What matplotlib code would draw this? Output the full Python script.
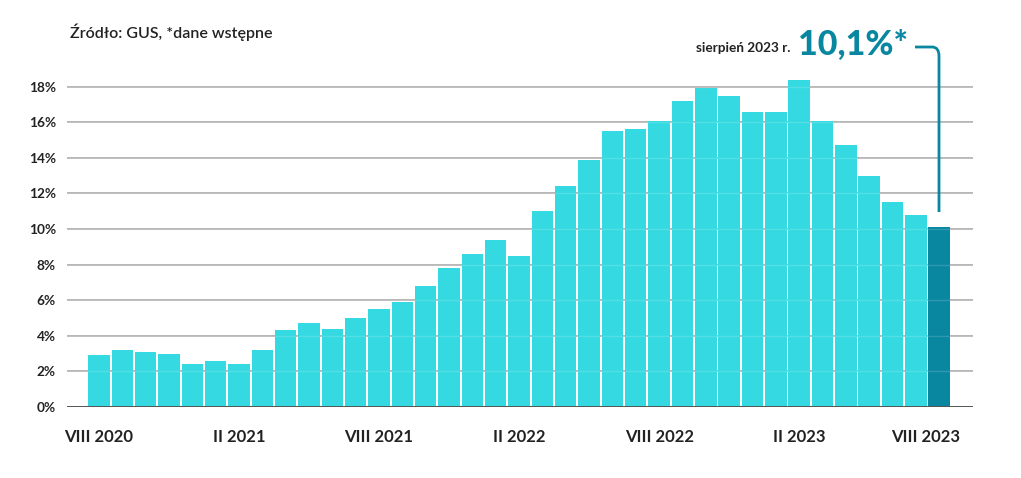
import matplotlib
matplotlib.use("Agg")
import matplotlib.pyplot as plt
import matplotlib.transforms as mtransforms
from matplotlib.path import Path
from matplotlib.patches import PathPatch

months = ["VIII 2020", "IX 2020", "X 2020", "XI 2020", "XII 2020",
          "I 2021", "II 2021", "III 2021", "IV 2021", "V 2021", "VI 2021", "VII 2021",
          "VIII 2021", "IX 2021", "X 2021", "XI 2021", "XII 2021",
          "I 2022", "II 2022", "III 2022", "IV 2022", "V 2022", "VI 2022", "VII 2022",
          "VIII 2022", "IX 2022", "X 2022", "XI 2022", "XII 2022",
          "I 2023", "II 2023", "III 2023", "IV 2023", "V 2023", "VI 2023", "VII 2023",
          "VIII 2023"]
inflation = [2.9, 3.2, 3.1, 3.0, 2.4,
             2.6, 2.4, 3.2, 4.3, 4.7, 4.4, 5.0,
             5.5, 5.9, 6.8, 7.8, 8.6,
             9.4, 8.5, 11.0, 12.4, 13.9, 15.5, 15.6,
             16.1, 17.2, 17.9, 17.5, 16.6,
             16.6, 18.4, 16.1, 14.7, 13.0, 11.5, 10.8,
             10.1]
xtick_labels = ["VIII 2020", "II 2021", "VIII 2021", "II 2022", "VIII 2022", "II 2023", "VIII 2023"]
yticks = [0, 2, 4, 6, 8, 10, 12, 14, 16, 18]

W, H = 1021, 478
fig = plt.figure(figsize=(W / 100, H / 100), dpi=100)
fig.patch.set_facecolor("white")
FONT = "Lato"

ax_left, ax_right = 67 / W, 973 / W
ax_bottom = 1 - 407 / H
ax_top = 1 - 60 / H
ax = fig.add_axes([ax_left, ax_bottom, ax_right - ax_left, ax_top - ax_bottom])
ax.set_xlim(-1.37, 37.45)
ax.set_ylim(0, 19.5)

cyan = "#35d9e1"
teal = "#0a87a0"
colors = [cyan] * (len(inflation) - 1) + [teal]
x = list(range(len(inflation)))
ax.bar(x, inflation, width=0.92, color=colors, zorder=2)

for t in yticks[1:]:
    ax.axhline(t, color="#b4b4b4", lw=1.4, zorder=1)
    ax.axhline(t, color="white", lw=1.0, alpha=0.15, zorder=3)
ax.axhline(0, color="#555555", lw=1.4, zorder=4)

for s in ax.spines.values():
    s.set_visible(False)

ax.set_yticks(yticks)
ax.set_yticklabels([f"{t}%" for t in yticks], fontfamily=FONT, fontweight="bold",
                   fontsize=9.8, color="#222222")
ax.tick_params(axis="y", length=0, pad=8)
xpos = [months.index(l) for l in xtick_labels]
ax.set_xticks(xpos)
ax.set_xticklabels(xtick_labels, fontfamily=FONT, fontweight="bold", fontsize=12, color="#222222")
ax.tick_params(axis="x", length=0, pad=16)
# last label is nudged left in the reference
last = ax.get_xticklabels()[-1]
last.set_transform(last.get_transform() + mtransforms.ScaledTranslation(-14 / 100, 0, fig.dpi_scale_trans))

fig.text(70 / W, 1 - 32 / H, "Źródło: GUS, *dane wstępne", fontfamily=FONT, fontweight="semibold",
         fontsize=11.5, color="#222222", va="center", ha="left")

fig.text(790 / W, 1 - 48 / H, "sierpień 2023 r.", fontfamily=FONT, fontweight="bold",
         fontsize=9.8, color="#222222", va="center", ha="right")
fig.text(798 / W, 1 - 45 / H, "10,1%*", fontfamily=FONT, fontweight="black",
         fontsize=24.5, color=teal, va="center", ha="left")

def fp(px, py):
    return (px / W, 1 - py / H)

verts = [fp(915, 47), fp(932, 47), fp(939, 47), fp(939, 56), fp(939, 212)]
codes = [Path.MOVETO, Path.LINETO, Path.CURVE3, Path.CURVE3, Path.LINETO]
fig.add_artist(PathPatch(Path(verts, codes), transform=fig.transFigure, fill=False,
                         edgecolor=teal, lw=2.0))

fig.savefig("out.png", dpi=100, facecolor="white")
